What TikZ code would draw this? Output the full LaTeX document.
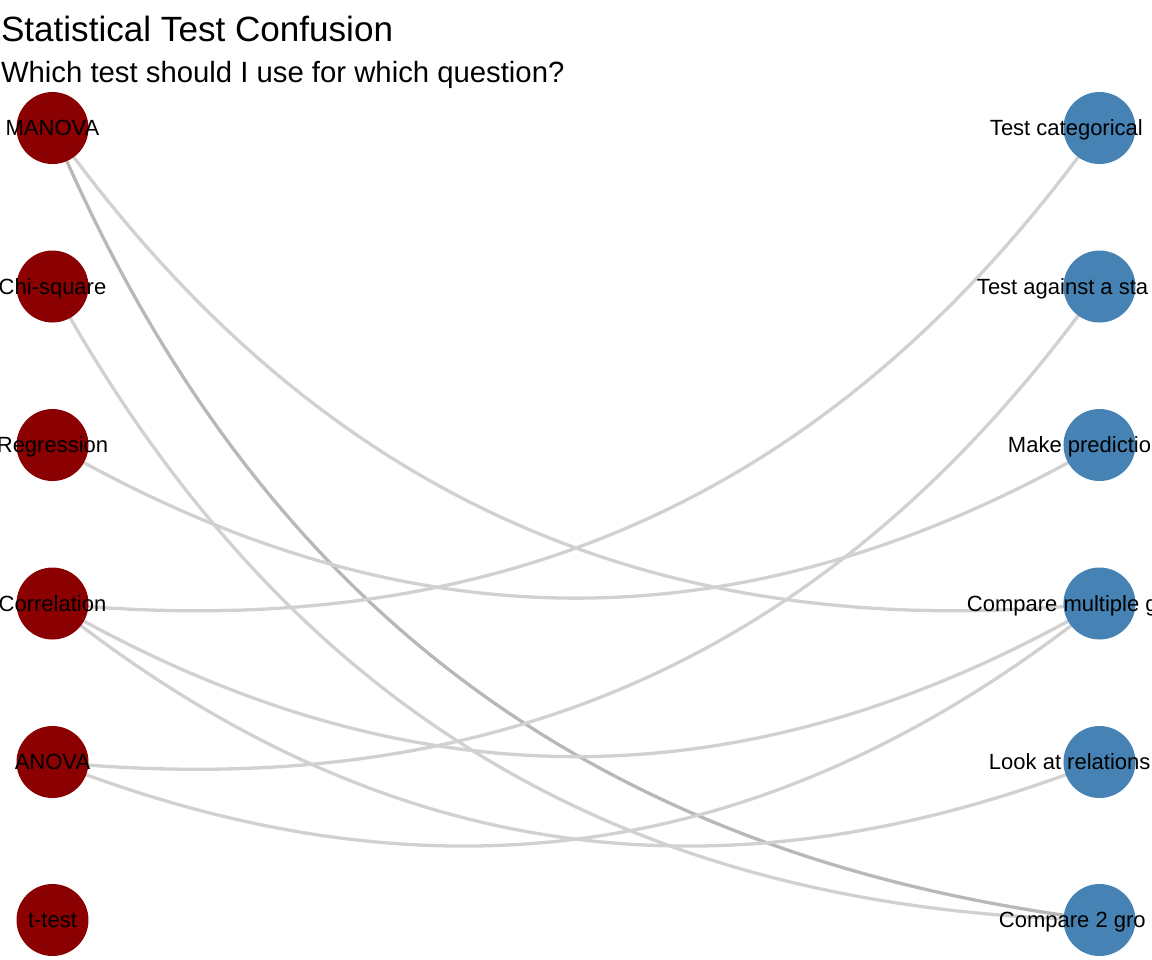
\documentclass[tikz,border=0pt]{standalone}
\usepackage{fontspec}
\setmainfont{Liberation Sans}
\usetikzlibrary{backgrounds}

\definecolor{testred}{HTML}{8B0000}
\definecolor{questblue}{HTML}{4682B4}
\definecolor{linkgray}{HTML}{D1D1D1}
\definecolor{linkdark}{HTML}{B8B8B8}

% one unit = one pixel of the 1152x960 layout (0.1pt)
\tikzset{
    testnode/.style={circle, fill=testred, minimum size=7.2pt, inner sep=0pt},
    questnode/.style={circle, fill=questblue, minimum size=7.2pt, inner sep=0pt},
    nodelabel/.style={font=\fontsize{2.2}{2.6}\selectfont, inner sep=0pt},
    link/.style={draw=linkgray, line width=0.33pt, bend right=30},
    heavylink/.style={link, draw=linkdark}
}

\begin{document}
\begin{tikzpicture}[x=0.1pt, y=-0.1pt]
    \useasboundingbox (0,0) rectangle (1152,960);
    \clip (0,0) rectangle (1152,960);

    % title
    \node[anchor=base west, inner sep=0pt, font=\fontsize{3.51}{4}\selectfont] (title) at (-1,41) {Statistical Test Confusion};
    \node[anchor=base west, inner sep=0pt, font=\fontsize{2.93}{3.4}\selectfont] (subtitle) at (-1,82) {Which test should I use for which question?};

    % tests
    \node[testnode] (manova) at (52.5,128) {};
    \node[testnode] (chisq) at (52.5,286.5) {};
    \node[testnode] (regr) at (52.5,445) {};
    \node[testnode] (corr) at (52.5,603.5) {};
    \node[testnode] (anova) at (52.5,762) {};
    \node[testnode] (ttest) at (52.5,920) {};

    % questions
    \node[questnode] (categorical) at (1099.5,128) {};
    \node[questnode] (standard) at (1099.5,286.5) {};
    \node[questnode] (predict) at (1099.5,445) {};
    \node[questnode] (multiple) at (1099.5,603.5) {};
    \node[questnode] (relation) at (1099.5,762) {};
    \node[questnode] (twogroups) at (1099.5,920) {};

    % links
    \begin{scope}[on background layer]
        \draw[link] (manova.center) to (multiple.center);
        \draw[heavylink] (manova.center) to (twogroups.center);
        \draw[link] (chisq.center) to (twogroups.center);
        \draw[link] (regr.center) to (predict.center);
        \draw[link] (corr.center) to (categorical.center);
        \draw[link] (corr.center) to (multiple.center);
        \draw[link] (corr.center) to (relation.center);
        \draw[link] (anova.center) to (standard.center);
        \draw[link] (anova.center) to (multiple.center);
    \end{scope}

    % labels
    \node[nodelabel, anchor=base] at ([yshift=-0.75pt]manova.center) {MANOVA};
    \node[nodelabel, anchor=base] at ([yshift=-0.75pt]chisq.center) {Chi-square};
    \node[nodelabel, anchor=base] at ([yshift=-0.75pt]regr.center) {Regression};
    \node[nodelabel, anchor=base] at ([yshift=-0.75pt]corr.center) {Correlation};
    \node[nodelabel, anchor=base] at ([yshift=-0.75pt]anova.center) {ANOVA};
    \node[nodelabel, anchor=base] at ([yshift=-0.75pt]ttest.center) {t-test};

    \node[nodelabel, anchor=base west] at ([xshift=-11.15pt, yshift=-0.75pt]categorical.center) {Test categorical};
    \node[nodelabel, anchor=base west] at ([xshift=-12.45pt, yshift=-0.75pt]standard.center) {Test against a sta};
    \node[nodelabel, anchor=base west] at ([xshift=-9.35pt, yshift=-0.75pt]predict.center) {Make predictio};
    \node[nodelabel, anchor=base west] at ([xshift=-13.45pt, yshift=-0.75pt]multiple.center) {Compare multiple g};
    \node[nodelabel, anchor=base west] at ([xshift=-11.25pt, yshift=-0.75pt]relation.center) {Look at relations};
    \node[nodelabel, anchor=base west] at ([xshift=-10.25pt, yshift=-0.75pt]twogroups.center) {Compare 2 gro};
\end{tikzpicture}
\end{document}
